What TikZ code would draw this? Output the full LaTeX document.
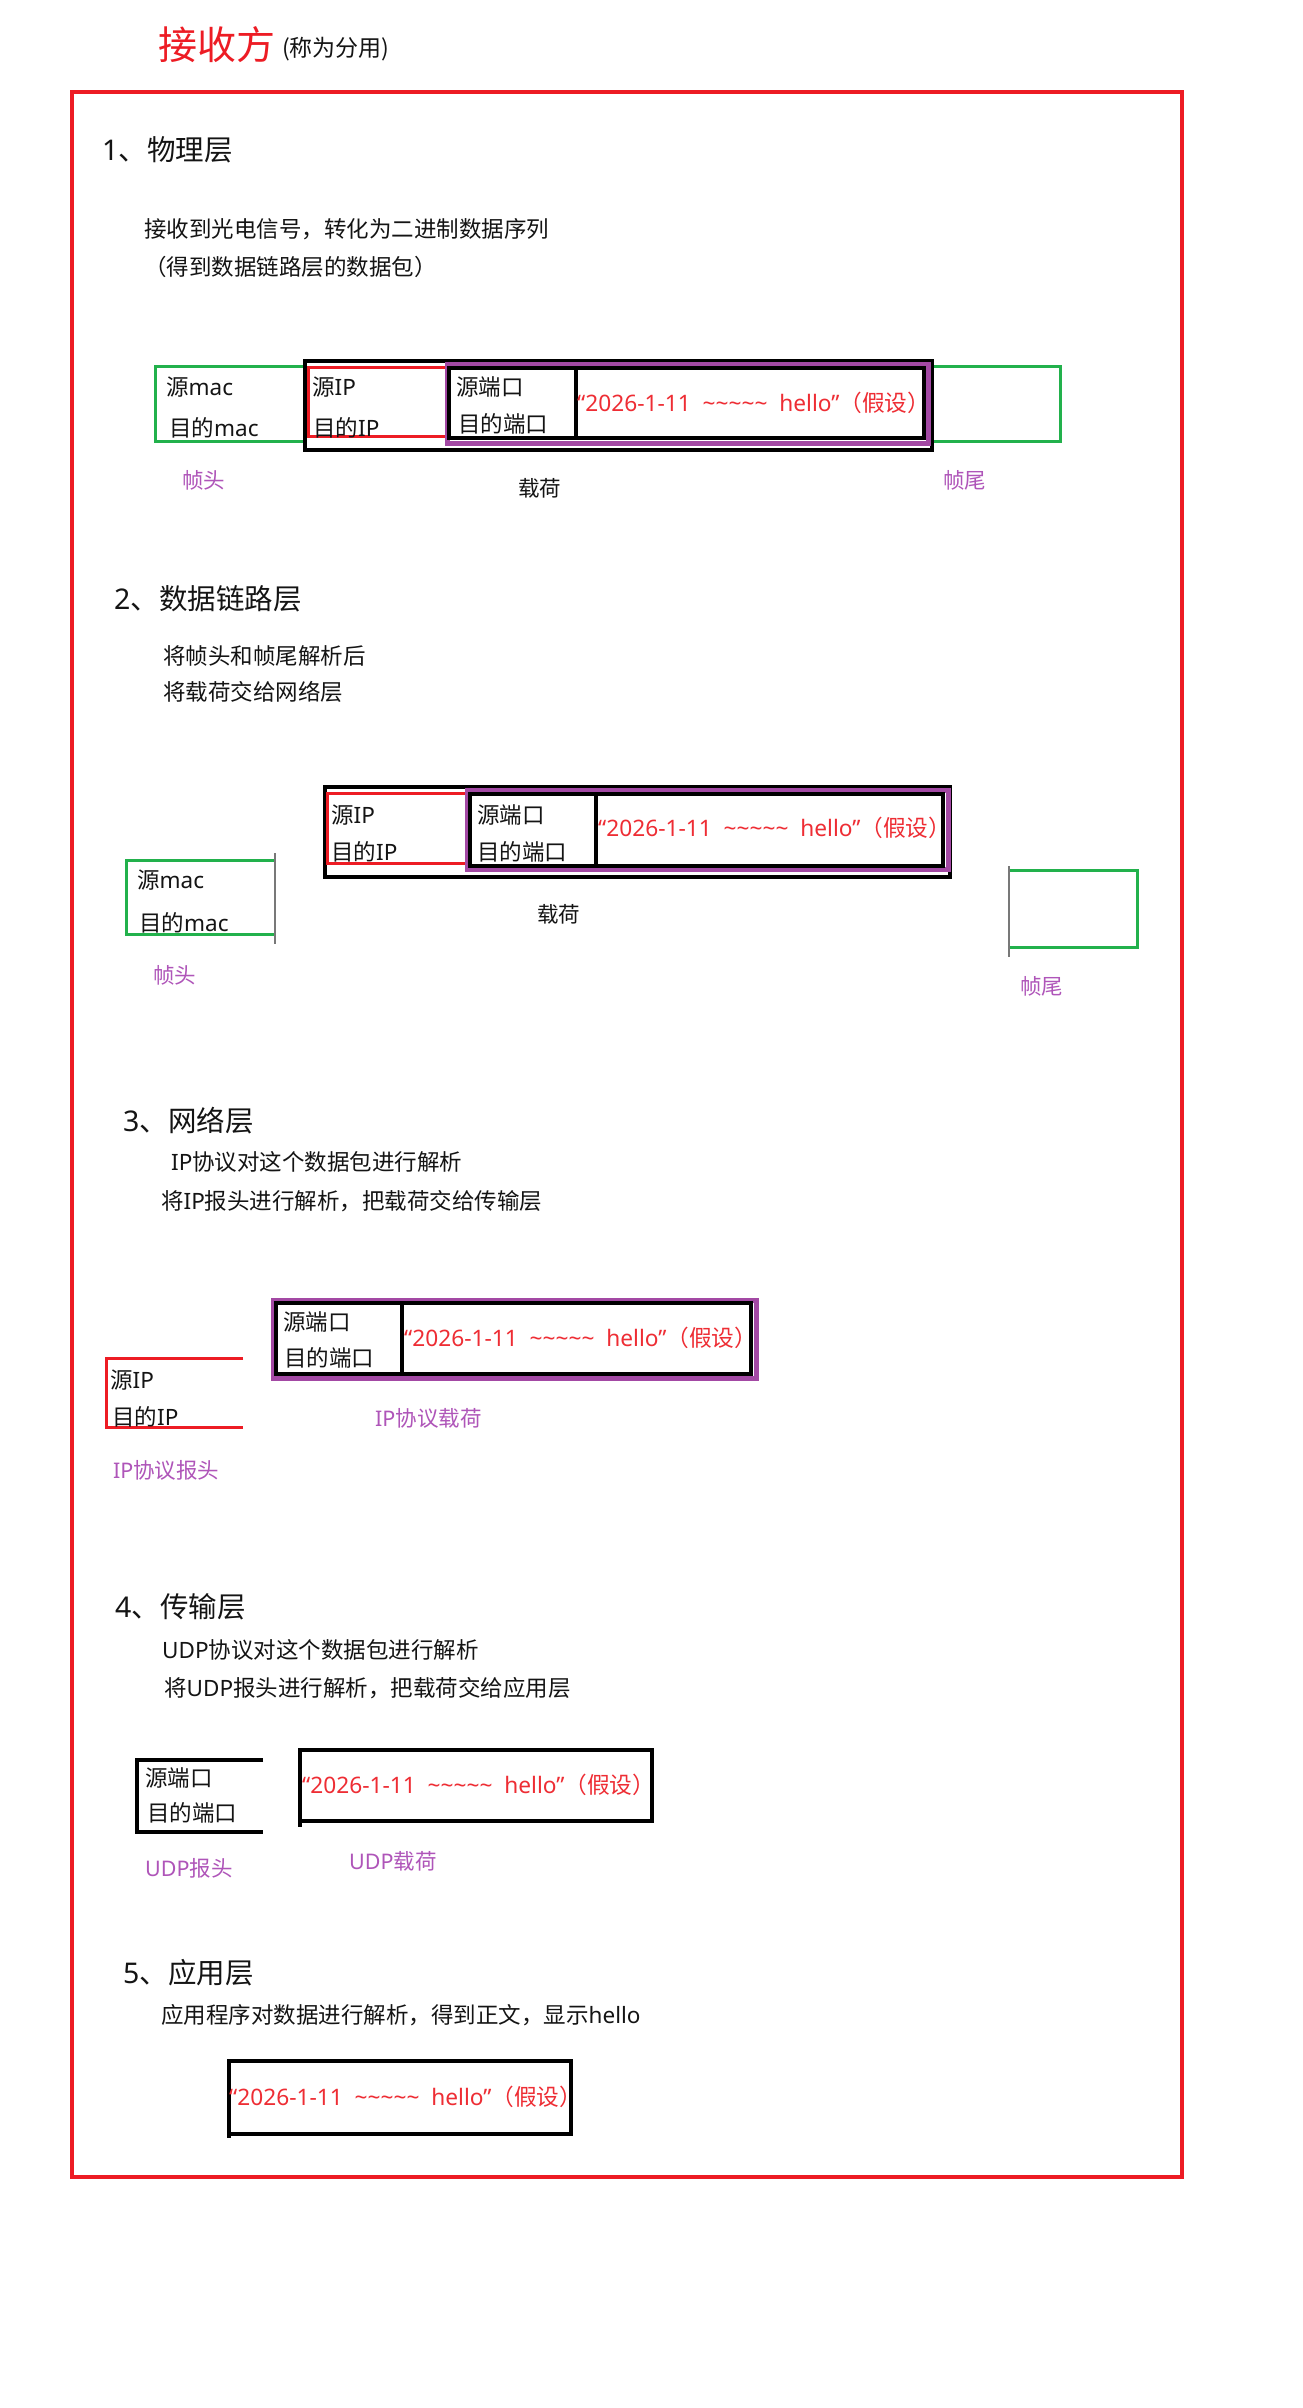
\documentclass[tikz,border=0pt]{standalone}
\usepackage{fontspec}
\setmainfont{Noto Sans CJK SC}
\newfontfamily\latf{Noto Sans}
\newcommand\LT[1]{{\latf #1}}
\newcommand\payload{\LT{“2026-1-11\ \ \char"7E\char"7E\char"7E\char"7E\char"7E\ \ hello”}（假设）}
\definecolor{pred}{RGB}{237,28,36}
\definecolor{txtred}{RGB}{238,45,52}
\definecolor{pgreen}{RGB}{34,177,76}
\definecolor{ppurple}{RGB}{163,73,164}
\definecolor{lblpurple}{RGB}{175,85,185}
\definecolor{ink}{RGB}{20,20,20}
\definecolor{gline}{RGB}{120,120,120}
\begin{document}
\begin{tikzpicture}[x=1pt,y=-1pt,
  txt/.style={anchor=west, inner sep=0pt, text=ink, font=\fontsize{22.5}{27}\selectfont},
  hd/.style={txt, font=\fontsize{28.5}{34}\selectfont},
  lbl/.style={txt, text=lblpurple, font=\fontsize{21.5}{26}\selectfont},
  pay/.style={txt, text=txtred, font=\fontsize{22.7}{26}\selectfont},
  gbox/.style={draw=pgreen, line width=3pt},
  rbox/.style={draw=pred, line width=3pt},
  pbox/.style={draw=ppurple, line width=5pt},
  bbox/.style={draw=black, line width=3.8pt},
  ibox/.style={draw=black, line width=3.2pt},
  gray rule/.style={draw=gline, line width=1.8pt}]
\fill[white] (0,0) rectangle (1302,2408);
\useasboundingbox (0,0) rectangle (1302,2408);

% title
\node[txt, text=pred, font=\fontsize{39}{44}\selectfont] (title) at (158,45) {接收方};
\node[txt, font=\fontsize{23}{27}\selectfont] (subtitle) at (282,49) {(称为分用)};

% outer frame
\draw[pred, line width=3.2pt] (72,92) rectangle (1182,2177);

% ---------- 1 physical layer ----------
\node[hd] (h1) at (102,150) {\LT{1}、物理层};
\node[txt] (t1a) at (144,229) {接收到光电信号，转化为二进制数据序列};
\node[txt] (t1b) at (144,267) {（得到数据链路层的数据包）};

\draw[gbox] (155,366) rectangle (1060,441);
\draw[bbox, fill=white] (305,361) rectangle (932,450);
\draw[rbox] (308,367) rectangle (447,436);
\draw[pbox] (447,364) rectangle (928,443);
\draw[ibox] (449,368) rectangle (924,438);
\draw[ibox] (576,368) -- (576,438);
\node[txt] (s1mac) at (166,387) {源\LT{mac}};
\node[txt] (d1mac) at (169,428) {目的\LT{mac}};
\node[txt] (s1ip) at (312,387) {源\LT{IP}};
\node[txt] (d1ip) at (313,428) {目的\LT{IP}};
\node[txt] (s1port) at (456,387) {源端口};
\node[txt] (d1port) at (458,424) {目的端口};
\node[pay] (p1) at (577,403) {\payload};
\node[lbl] (l1head) at (182,480) {帧头};
\node[txt, font=\fontsize{21.5}{26}\selectfont] (l1load) at (518,488) {载荷};
\node[lbl] (l1tail) at (943,480) {帧尾};

% ---------- 2 data link layer ----------
\node[hd] (h2) at (114,599) {\LT{2}、数据链路层};
\node[txt] (t2a) at (163,656) {将帧头和帧尾解析后};
\node[txt] (t2b) at (163,692) {将载荷交给网络层};

\draw[gbox] (275,860) -- (126,860) -- (126,934) -- (275,934);
\draw[gray rule] (275,853) -- (275,944);
\node[txt] (s2mac) at (137,880) {源\LT{mac}};
\node[txt] (d2mac) at (139,923) {目的\LT{mac}};
\node[lbl] (l2head) at (153,975) {帧头};

\draw[bbox, fill=white] (325,787) rectangle (950,877);
\draw[rbox] (327,793) rectangle (467,863);
\draw[pbox] (467,790) rectangle (948,869);
\draw[ibox] (470,794) rectangle (943,866);
\draw[ibox] (596,794) -- (596,866);
\node[txt] (s2ip) at (331,815) {源\LT{IP}};
\node[txt] (d2ip) at (331,852) {目的\LT{IP}};
\node[txt] (s2port) at (477,815) {源端口};
\node[txt] (d2port) at (477,852) {目的端口};
\node[pay] (p2) at (598,828) {\payload};
\node[txt, font=\fontsize{21.5}{26}\selectfont] (l2load) at (537,914) {载荷};

\draw[gbox] (1009,870) -- (1137,870) -- (1137,947) -- (1009,947);
\draw[gray rule] (1009,866) -- (1009,957);
\node[lbl] (l2tail) at (1020,986) {帧尾};

% ---------- 3 network layer ----------
\node[hd] (h3) at (123,1121) {\LT{3}、网络层};
\node[txt] (t3a) at (171,1162) {\LT{IP}协议对这个数据包进行解析};
\node[txt] (t3b) at (161,1201) {将\LT{IP}报头进行解析，把载荷交给传输层};

\draw[pbox] (273,1300) rectangle (756,1378);
\draw[ibox] (276,1303) rectangle (751,1374);
\draw[ibox] (402,1303) -- (402,1374);
\node[txt] (s3port) at (283,1322) {源端口};
\node[txt] (d3port) at (284,1358) {目的端口};
\node[pay] (p3) at (404,1338) {\payload};
\draw[rbox] (243,1358) -- (106,1358) -- (106,1427) -- (243,1427);
\node[txt] (s3ip) at (110,1380) {源\LT{IP}};
\node[txt] (d3ip) at (112,1417) {目的\LT{IP}};
\node[lbl] (l3load) at (375,1418) {\LT{IP}协议载荷};
\node[lbl] (l3head) at (113,1470) {\LT{IP}协议报头};

% ---------- 4 transport layer ----------
\node[hd] (h4) at (115,1607) {\LT{4}、传输层};
\node[txt] (t4a) at (162,1650) {\LT{UDP}协议对这个数据包进行解析};
\node[txt] (t4b) at (164,1688) {将\LT{UDP}报头进行解析，把载荷交给应用层};

\draw[bbox] (263,1760) -- (137,1760) -- (137,1832) -- (263,1832);
\node[txt] (s4port) at (145,1778) {源端口};
\node[txt] (d4port) at (147,1813) {目的端口};
\draw[bbox] (300,1750) rectangle (652,1821);
\draw[bbox] (300,1821) -- (300,1827);
\node[pay] (p4) at (302,1785) {\payload};
\node[lbl] (l4head) at (145,1868) {\LT{UDP}报头};
\node[lbl] (l4load) at (349,1861) {\LT{UDP}载荷};

% ---------- 5 application layer ----------
\node[hd] (h5) at (123,1973) {\LT{5}、应用层};
\node[txt] (t5a) at (161,2015) {应用程序对数据进行解析，得到正文，显示\LT{hello}};
\draw[bbox] (229,2061) rectangle (571,2134);
\draw[bbox] (229,2134) -- (229,2138);
\node[pay] (p5) at (229,2097) {\payload};
\end{tikzpicture}
\end{document}
